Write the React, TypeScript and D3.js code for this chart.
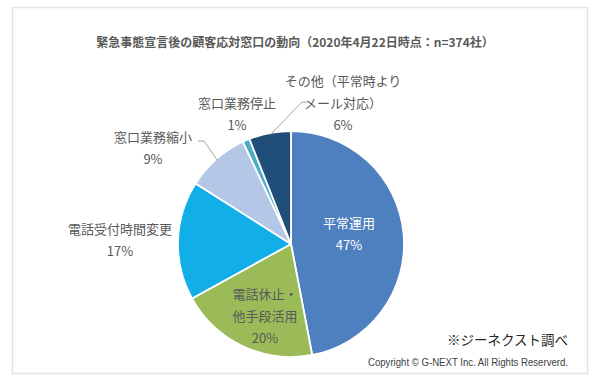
import React from "react";
import * as d3 from "d3";

const categories = ["平常運用", "電話休止・他手段活用", "電話受付時間変更", "窓口業務縮小", "窓口業務停止", "その他（平常時よりメール対応）"];
const values = [47, 20, 17, 9, 1, 6];
const colors = ["#4e7fbf", "#9bbb59", "#11aee8", "#b4c7e7", "#4bacc6", "#1f4e79"];
const labelLines: string[][] = [
  ["平常運用"],
  ["電話休止・", "他手段活用"],
  ["電話受付時間変更"],
  ["窓口業務縮小"],
  ["窓口業務停止"],
  ["その他（平常時より", "メール対応）"],
];
const title = "緊急事態宣言後の顧客応対窓口の動向（2020年4月22日時点：n=374社）";
const source = "※ジーネクスト調べ";
const copyright = "Copyright © G-NEXT Inc. All Rights Reserverd.";

const W = 600, H = 387;
const cx = 291, cy = 244, R = 113;
// label anchor positions (center of first line), relative to page
const labelPos: [number, number][] = [
  [349, 223],
  [265, 294],
  [120, 229],
  [153, 137],
  [237, 103],
  [343, 81],
];
const lineH = 22;
const leaders: Record<number, [number, number][]> = {
  3: [[198, 141], [204, 141]],
  5: [[307, 102], [302, 102]],
};

export default function App() {
  const pie = d3.pie<number>().sort(null).value((d) => d)(values);
  const arc = d3.arc<d3.PieArcDatum<number>>().innerRadius(0).outerRadius(R);
  const edge = d3.arc<d3.PieArcDatum<number>>().innerRadius(R - 2).outerRadius(R - 2);
  const font = "'Noto Sans CJK JP', 'Noto Sans', sans-serif";
  return (
    <svg width={W} height={H} style={{ position: "absolute", left: 0, top: 0, background: "#fff" }} fontFamily={font}>
      <rect x={12.5} y={7.5} width={575} height={366} fill="#fff" stroke="#e3e3e3" strokeWidth={1.5} />
      <text x={295} y={47} textAnchor="middle" fontSize={12} fontWeight="bold" fill="#595959">{title}</text>
      <g transform={`translate(${cx},${cy})`}>
        {pie.map((p, i) => (
          <path key={i} d={arc(p) || ""} fill={colors[i]} stroke="#fff" strokeWidth={1.8} strokeLinejoin="round" />
        ))}
      </g>
      {Object.keys(leaders).map((k) => {
        const i = +k;
        const c = edge.centroid(pie[i]);
        const pts = [...leaders[i], [cx + c[0], cy + c[1]]];
        return (
          <polyline key={k} points={pts.map((p) => p.join(",")).join(" ")} fill="none" stroke="#a6a6a6" strokeWidth={1} />
        );
      })}
      {labelLines.map((lines, i) => {
        const [x, y] = labelPos[i];
        const fill = i === 0 ? "#ffffff" : "#595959";
        return (
          <text key={i} textAnchor="middle" fontSize={13} fill={fill}>
            {lines.map((l, j) => (
              <tspan key={j} x={x} y={y + j * lineH + 5}>{l}</tspan>
            ))}
            <tspan x={x} y={y + lines.length * lineH + 5}>{values[i]}%</tspan>
          </text>
        );
      })}
      <text x={568} y={345} textAnchor="end" fontSize={13.5} fill="#262626">{source}</text>
      <text x={568} y={366} textAnchor="end" fontSize={10} fill="#404040" fontFamily="'Liberation Sans', Arial, sans-serif" textLength={200} lengthAdjust="spacingAndGlyphs">{copyright}</text>
    </svg>
  );
}
